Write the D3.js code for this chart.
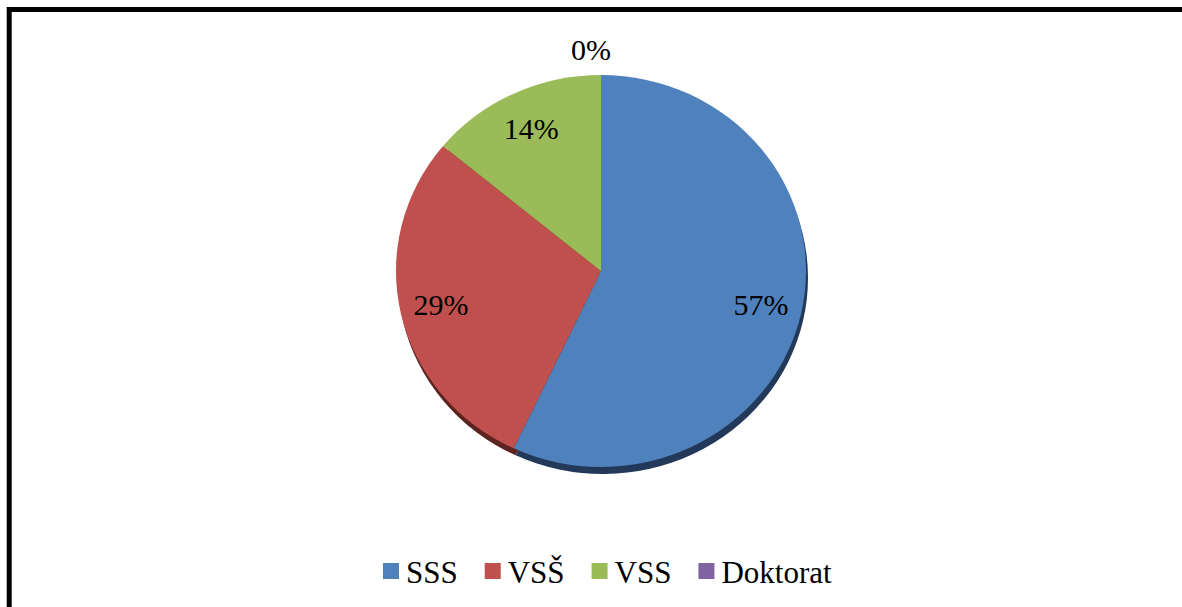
<!DOCTYPE html>
<html>
<head>
<meta charset="utf-8">
<script src="https://cdn.jsdelivr.net/npm/d3@7"></script>
</head>
<body style="margin:0">
<svg id="chart" width="1182" height="607" font-family="Liberation Serif"></svg>
<script>
// Podaci: stupanj obrazovanja
const categories = ["SSS", "VSŠ", "VSS", "Doktorat"];
const percentages = [57, 29, 14, 0];
const sliceColors = ["#4f81bd", "#c0504d", "#9bbb59", "#8064a2"];
const shadowColors = ["#23395a", "#5c2321", "#4a5c26", "#3b2d4d"];

const W = 1182, H = 607;
const CX = 601, CY = 271;
const RX = 205, RY = 196;
const R = 200;

const svg = d3.select("#chart");

// okvir (desni i donji rub izvan slike)
svg.append("rect")
  .attr("x", 9.2).attr("y", 9.5)
  .attr("width", W + 20).attr("height", H + 20)
  .attr("fill", "#fff")
  .attr("stroke", "#000")
  .attr("stroke-width", 5);

const pie = d3.pie().sort(null).value(d => d).startAngle(0).endAngle(2 * Math.PI);
const arcs = pie(percentages);
const arc = d3.arc().innerRadius(0).outerRadius(R);

const sx = RX / R, sy = RY / R;

// sjena / rub ispod
svg.append("g")
  .attr("transform", `translate(${CX + 2},${CY + 7}) scale(${sx},${sy})`)
  .selectAll("path")
  .data(arcs.filter(d => d.value > 0))
  .enter().append("path")
  .attr("d", arc)
  .attr("fill", d => shadowColors[d.index]);

const gPie = svg.append("g")
  .attr("transform", `translate(${CX},${CY}) scale(${sx},${sy})`);

gPie.selectAll(".slice")
  .data(arcs.filter(d => d.value > 0))
  .enter().append("path")
  .attr("class", "slice")
  .attr("d", arc)
  .attr("fill", d => sliceColors[d.index]);

// oznake postotaka
const labelArc = d3.arc().innerRadius(R * 0.8).outerRadius(R * 0.8);
const outerArc = d3.arc().innerRadius(R + 26).outerRadius(R + 26);

arcs.forEach(d => {
  const c = (d.value > 0 ? labelArc : outerArc).centroid(d);
  svg.append("text")
    .attr("x", CX + c[0] * sx + (d.value > 0 ? 0 : -10))
    .attr("y", CY + c[1] * sy + 10)
    .attr("text-anchor", "middle")
    .attr("font-family", "Liberation Serif")
    .attr("font-size", 30)
    .text(d.value + "%");
});

// legenda
const ctx = document.createElement("canvas").getContext("2d");
ctx.font = "31px Liberation Serif";
const widths = categories.map(c => ctx.measureText(c).width);
const legendW = d3.sum(widths) + categories.length * 23 + (categories.length - 1) * 27;
let xPos = Math.round(607 - legendW / 2);

categories.forEach((c, i) => {
  svg.append("rect")
    .attr("x", xPos).attr("y", 563)
    .attr("width", 16).attr("height", 16)
    .attr("fill", sliceColors[i]);
  svg.append("text")
    .attr("x", xPos + 23)
    .attr("y", 583)
    .attr("font-family", "Liberation Serif")
    .attr("font-size", 31)
    .text(c);
  xPos += 23 + widths[i] + 27;
});
</script>
</body>
</html>
